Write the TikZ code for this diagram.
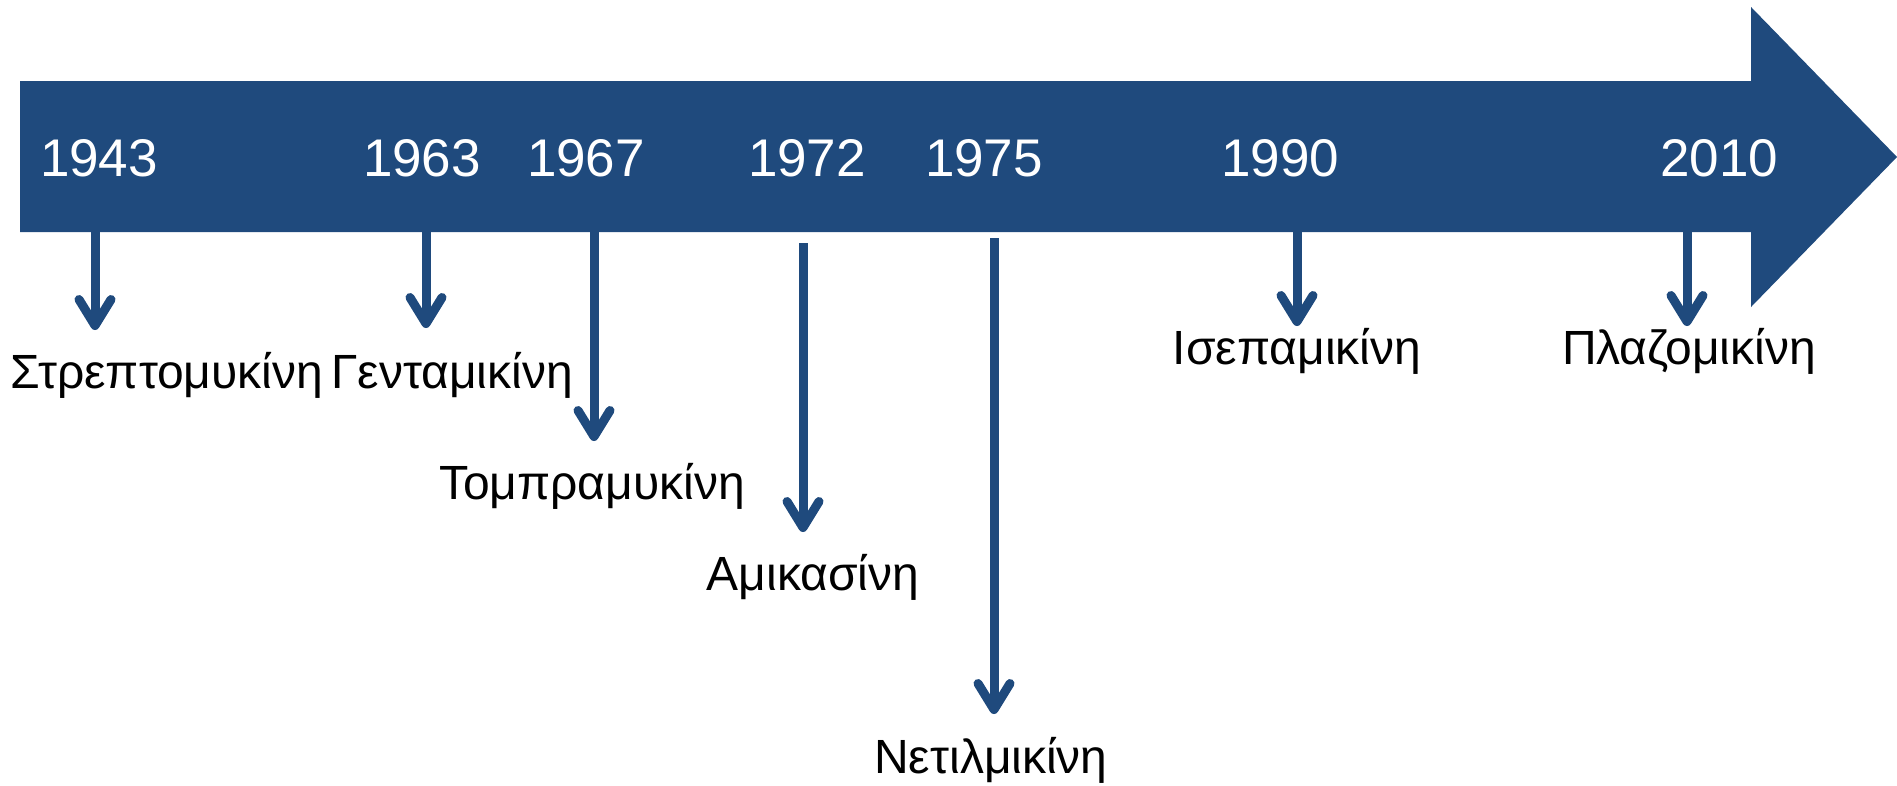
\documentclass[tikz,border=0pt]{standalone}
\usepackage{fontspec}
\setmainfont{Liberation Sans}
\usetikzlibrary{arrows.meta}
\definecolor{tlblue}{RGB}{31,74,125}
\begin{document}
\begin{tikzpicture}[x=1pt,y=-1pt,
  year/.style={text=white,font=\fontsize{53}{53}\selectfont,inner sep=0pt},
  drug/.style={text=black,font=\fontsize{48}{48}\selectfont,inner sep=0pt},
  tick/.style={draw=tlblue,line width=9pt,-{Straight Barb[round,length=26pt,width=32pt]}}]
\useasboundingbox (0,0) rectangle (1897,785);
% big arrow
\fill[tlblue] (20,81) -- (1751,81) -- (1751,7) -- (1897,157) -- (1751,307) -- (1751,232) -- (20,232) -- cycle;
% years
\node[year] (y1943) at (99,158) {1943};
\node[year] (y1963) at (422,158) {1963};
\node[year] (y1967) at (586,158) {1967};
\node[year] (y1972) at (807,158) {1972};
\node[year] (y1975) at (984,158) {1975};
\node[year] (y1990) at (1280,158) {1990};
\node[year] (y2010) at (1719,158) {2010};
% drugs
\node[drug] (d1) at (167,375) {Στρεπτομυκίνη};
\node[drug] (d2) at (452,375) {Γενταμικίνη};
\node[drug] (d3) at (592,486) {Τομπραμυκίνη};
\node[drug] (d4) at (813,577) {Αμικασίνη};
\node[drug] (d5) at (991,760) {Νετιλμικίνη};
\node[drug] (d6) at (1297,351) {Ισεπαμικίνη};
\node[drug] (d7) at (1689,351) {Πλαζομικίνη};
% tick coordinates
\coordinate (s1) at (95,232);   \coordinate (t1) at (95,330);
\coordinate (s2) at (426,232);  \coordinate (t2) at (426,328);
\coordinate (s3) at (594,232);  \coordinate (t3) at (594,441);
\coordinate (s4) at (803,243);  \coordinate (t4) at (803,532);
\coordinate (s5) at (994,238);  \coordinate (t5) at (994,714);
\coordinate (s6) at (1297,232); \coordinate (t6) at (1297,326);
\coordinate (s7) at (1687,232); \coordinate (t7) at (1687,326);
\foreach \i in {1,...,7} {\draw[tick] (s\i) -- (t\i);}
\end{tikzpicture}
\end{document}
